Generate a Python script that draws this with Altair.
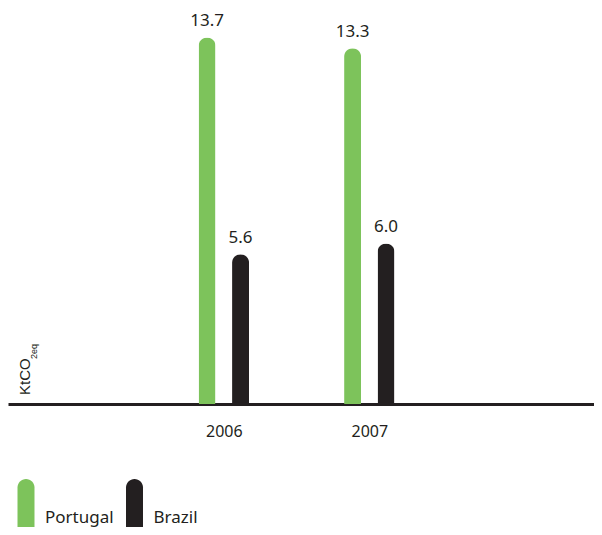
import altair as alt
import pandas as pd

years = [2006, 2006, 2007, 2007]
countries = ["Portugal", "Brazil", "Portugal", "Brazil"]
values = [13.7, 5.6, 13.3, 6.0]
series = ["Portugal", "Brazil"]
colors = ["#7DC35B", "#231F20"]
tick_years = [2006, 2007]

df = pd.DataFrame({"year": years, "country": countries, "value": values})

FONT = "Noto Sans"
DARK = "#231F20"

leg_path = "M-0.472,1 L-0.472,-1.695 A0.472,0.472 0 0 1 0.472,-1.695 L0.472,1 Z"

base = alt.Chart(df).transform_calculate(
    xpos="datum.year + (datum.country == 'Portugal' ? -0.115 : 0.115)"
)

xscale = alt.Scale(domain=[2004.551, 2008.51], nice=False, zero=False)
yscale = alt.Scale(domain=[0, 14.8], nice=False)

bars = base.mark_bar(width=17, cornerRadiusTopLeft=8.5, cornerRadiusTopRight=8.5).encode(
    x=alt.X("xpos:Q", scale=xscale,
            axis=alt.Axis(values=tick_years, format="d", ticks=False, grid=False,
                          domain=True, domainWidth=3, domainColor=DARK,
                          labelFontSize=16, labelFont=FONT, labelColor=DARK,
                          labelPadding=19, title=None)),
    y=alt.Y("value:Q", scale=yscale, axis=None),
    color=alt.Color("country:N", scale=alt.Scale(domain=series, range=colors),
                    legend=alt.Legend(title=None, orient="none", legendX=0, legendY=492,
                                      direction="horizontal", symbolType=leg_path,
                                      symbolSize=1296, symbolStrokeWidth=0,
                                      labelFontSize=17, labelFont=FONT, labelColor=DARK,
                                      labelOffset=1, columnPadding=2.5, padding=0,
                                      symbolOpacity=1)),
)

labels = base.mark_text(dy=-7, baseline="bottom", fontSize=17, font=FONT, color=DARK).encode(
    x=alt.X("xpos:Q", scale=xscale),
    y=alt.Y("value:Q", scale=yscale),
    text=alt.Text("value:Q", format=".1f"),
)

ytitle = alt.Chart(pd.DataFrame({"t": ["KtCO"]})).mark_text(
    angle=270, align="left", baseline="middle", fontSize=15, font="Liberation Sans", color=DARK
).encode(x=alt.value(17), y=alt.value(387), text="t:N")

ysub = alt.Chart(pd.DataFrame({"t": ["2eq"]})).mark_text(
    angle=270, align="left", baseline="middle", fontSize=9, font="Liberation Sans", color=DARK
).encode(x=alt.value(26), y=alt.value(351), text="t:N")

chart = alt.layer(bars, labels, ytitle, ysub).properties(
    width=586, height=396, autosize="none",
    padding={"left": 0, "top": 0, "right": 0, "bottom": 123},
).configure_view(stroke=None)

chart.save("out.html", embed_options={"renderer": "svg", "actions": False})
